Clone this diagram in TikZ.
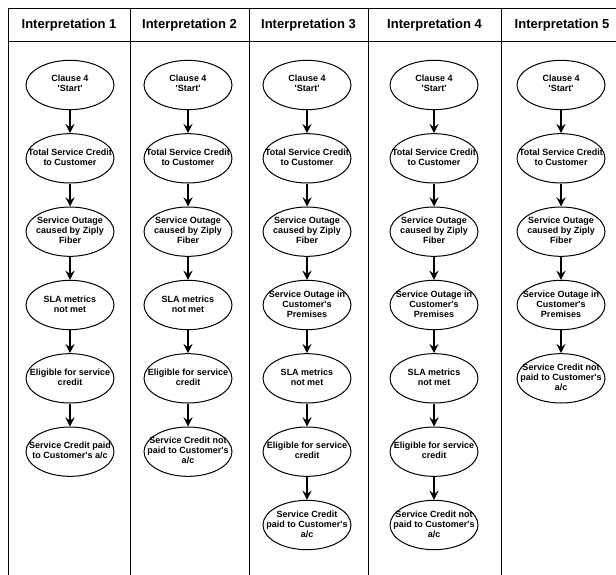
\documentclass[tikz,border=0pt]{standalone}
\usepackage{fontspec}
\setmainfont{Liberation Sans}[Ligatures=TeXOff]
\usetikzlibrary{shapes.geometric,arrows}
\tikzstyle{lane} = [draw=black, line width=0.65pt]
\tikzstyle{head} = [font=\fontsize{9.75}{11}\selectfont\bfseries]
\tikzstyle{stage} = [ellipse, draw=black, line width=0.75pt, minimum width=66pt, minimum height=37pt, inner sep=0pt, font=\fontsize{6.75}{7.5}\selectfont\bfseries]
\tikzstyle{arrow} = [line width=2pt,->,>=stealth]
\newcommand{\stagetext}[1]{\makebox[0pt]{\begin{tabular}{@{}c@{}}#1\end{tabular}}}

\begin{document}
\begin{tikzpicture}[x=0.75pt, y=-0.75pt, node distance=55pt]
\clip (0,0) rectangle (616,574);
\draw [lane] (8,8) rectangle (130,590);
\draw [lane] (130,8) rectangle (249,590);
\draw [lane] (249,8) rectangle (368,590);
\draw [lane] (368,8) rectangle (501,590);
\draw [lane] (501,8) rectangle (623,590);
\draw [lane] (8,41) -- (623,41);

\node (headA) [head] at (69,25) {Interpretation 1};
\node (headB) [head] at (189.5,25) {Interpretation 2};
\node (headC) [head] at (308.5,25) {Interpretation 3};
\node (headD) [head] at (434.5,25) {Interpretation 4};
\node (headE) [head] at (562,25) {Interpretation 5};

\node (clauseA) [stage] at (70,85) {\stagetext{Clause 4\\'Start'}};
\node (creditA) [stage, below of=clauseA] {\stagetext{Total Service Credit\\to Customer}};
\node (outageA) [stage, below of=creditA] {\stagetext{Service Outage\\caused by Ziply\\Fiber}};
\node (slaA) [stage, below of=outageA] {\stagetext{SLA metrics\\not met}};
\node (eligibleA) [stage, below of=slaA] {\stagetext{Eligible for service\\credit}};
\node (paidA) [stage, below of=eligibleA] {\stagetext{Service Credit paid\\to Customer's a/c}};

\node (clauseB) [stage] at (188,85) {\stagetext{Clause 4\\'Start'}};
\node (creditB) [stage, below of=clauseB] {\stagetext{Total Service Credit\\to Customer}};
\node (outageB) [stage, below of=creditB] {\stagetext{Service Outage\\caused by Ziply\\Fiber}};
\node (slaB) [stage, below of=outageB] {\stagetext{SLA metrics\\not met}};
\node (eligibleB) [stage, below of=slaB] {\stagetext{Eligible for service\\credit}};
\node (notpaidB) [stage, below of=eligibleB] {\stagetext{Service Credit not\\paid to Customer's\\a/c}};

\node (clauseC) [stage] at (307,85) {\stagetext{Clause 4\\'Start'}};
\node (creditC) [stage, below of=clauseC] {\stagetext{Total Service Credit\\to Customer}};
\node (outageC) [stage, below of=creditC] {\stagetext{Service Outage\\caused by Ziply\\Fiber}};
\node (premisesC) [stage, below of=outageC] {\stagetext{Service Outage in\\Customer's\\Premises}};
\node (slaC) [stage, below of=premisesC] {\stagetext{SLA metrics\\not met}};
\node (eligibleC) [stage, below of=slaC] {\stagetext{Eligible for service\\credit}};
\node (paidC) [stage, below of=eligibleC] {\stagetext{Service Credit\\paid to Customer's\\a/c}};

\node (clauseD) [stage] at (434,85) {\stagetext{Clause 4\\'Start'}};
\node (creditD) [stage, below of=clauseD] {\stagetext{Total Service Credit\\to Customer}};
\node (outageD) [stage, below of=creditD] {\stagetext{Service Outage\\caused by Ziply\\Fiber}};
\node (premisesD) [stage, below of=outageD] {\stagetext{Service Outage in\\Customer's\\Premises}};
\node (slaD) [stage, below of=premisesD] {\stagetext{SLA metrics\\not met}};
\node (eligibleD) [stage, below of=slaD] {\stagetext{Eligible for service\\credit}};
\node (notpaidD) [stage, below of=eligibleD] {\stagetext{Service Credit not\\paid to Customer's\\a/c}};

\node (clauseE) [stage] at (561,85) {\stagetext{Clause 4\\'Start'}};
\node (creditE) [stage, below of=clauseE] {\stagetext{Total Service Credit\\to Customer}};
\node (outageE) [stage, below of=creditE] {\stagetext{Service Outage\\caused by Ziply\\Fiber}};
\node (premisesE) [stage, below of=outageE] {\stagetext{Service Outage in\\Customer's\\Premises}};
\node (notpaidE) [stage, below of=premisesE] {\stagetext{Service Credit not\\paid to Customer's\\a/c}};

\draw [arrow] (clauseA) -- (creditA);
\draw [arrow] (creditA) -- (outageA);
\draw [arrow] (outageA) -- (slaA);
\draw [arrow] (slaA) -- (eligibleA);
\draw [arrow] (eligibleA) -- (paidA);

\draw [arrow] (clauseB) -- (creditB);
\draw [arrow] (creditB) -- (outageB);
\draw [arrow] (outageB) -- (slaB);
\draw [arrow] (slaB) -- (eligibleB);
\draw [arrow] (eligibleB) -- (notpaidB);

\draw [arrow] (clauseC) -- (creditC);
\draw [arrow] (creditC) -- (outageC);
\draw [arrow] (outageC) -- (premisesC);
\draw [arrow] (premisesC) -- (slaC);
\draw [arrow] (slaC) -- (eligibleC);
\draw [arrow] (eligibleC) -- (paidC);

\draw [arrow] (clauseD) -- (creditD);
\draw [arrow] (creditD) -- (outageD);
\draw [arrow] (outageD) -- (premisesD);
\draw [arrow] (premisesD) -- (slaD);
\draw [arrow] (slaD) -- (eligibleD);
\draw [arrow] (eligibleD) -- (notpaidD);

\draw [arrow] (clauseE) -- (creditE);
\draw [arrow] (creditE) -- (outageE);
\draw [arrow] (outageE) -- (premisesE);
\draw [arrow] (premisesE) -- (notpaidE);
\end{tikzpicture}
\end{document}
